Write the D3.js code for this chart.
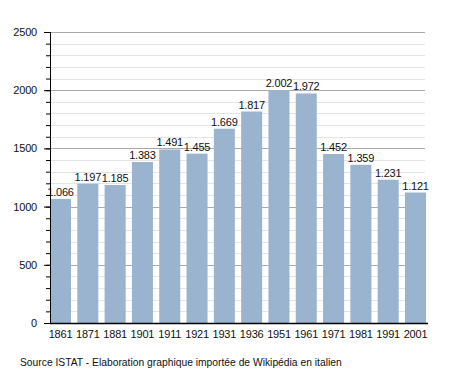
<html>
<head>
<script src="https://d3js.org/d3.v7.min.js"></script>
<style>
body { margin:0; background:#fff; }
text { font-family: "Liberation Sans", Arial, sans-serif; }
</style>
</head>
<body>
<svg width="455" height="373"></svg>
<script>
var years = ["1861","1871","1881","1901","1911","1921","1931","1936","1951","1961","1971","1981","1991","2001"];
var population = [1066,1197,1185,1383,1491,1455,1669,1817,2002,1972,1452,1359,1231,1121];
var majorTicks = [0,500,1000,1500,2000,2500];
var sourceText = "Source ISTAT - Elaboration graphique importée de Wikipédia en italien";

var svg = d3.select("svg");
var plotLeft = 50, plotRight = 426, plotTop = 32, plotBottom = 323;

var x = d3.scaleBand().domain(years).range([plotLeft, plotRight]).paddingInner(0.23).paddingOuter(0);
var y = d3.scaleLinear().domain([0, 2500]).range([plotBottom, plotTop]);

// minor grid
var minor = d3.range(0, 2501, 100);
svg.append("g").selectAll("line").data(minor.filter(function(d){ return d % 500 != 0; }))
  .enter().append("line")
  .attr("x1", plotLeft).attr("x2", 425)
  .attr("y1", function(d){ return Math.round(y(d)) + 0.5; })
  .attr("y2", function(d){ return Math.round(y(d)) + 0.5; })
  .attr("stroke", "#e4e4e4").attr("stroke-width", 1);
// major grid
svg.append("g").selectAll("line").data(majorTicks.slice(1))
  .enter().append("line")
  .attr("x1", plotLeft).attr("x2", 425)
  .attr("y1", function(d){ return Math.round(y(d)) + 0.5; })
  .attr("y2", function(d){ return Math.round(y(d)) + 0.5; })
  .attr("stroke", "#aaaaaa").attr("stroke-width", 1);

// bars
svg.append("g").selectAll("rect").data(population).enter().append("rect")
  .attr("x", function(d,i){ return x(years[i]); })
  .attr("width", x.bandwidth())
  .attr("y", function(d){ return y(d); })
  .attr("height", function(d){ return plotBottom - y(d); })
  .attr("fill", "#9ab3cf");

// value labels
svg.append("g").selectAll("text").data(population).enter().append("text")
  .attr("x", function(d,i){ return x(years[i]) + x.bandwidth()/2; })
  .attr("y", function(d){ return y(d) - 3; })
  .attr("text-anchor", "middle")
  .style("font-size", "11px")
  .style("letter-spacing", "-0.2px")
  .attr("fill", "#111")
  .text(function(d){ return d3.format(",")(d).replace(",", "."); });

// y axis: minor ticks
svg.append("g").attr("transform", "translate(" + plotLeft + ",0)")
  .call(d3.axisLeft(y).tickValues(minor).tickSize(4).tickFormat(""))
  .call(function(g){ g.select(".domain").remove(); });
// y axis: major
var ya = svg.append("g").attr("transform", "translate(" + plotLeft + ",0)")
  .call(d3.axisLeft(y).tickValues(majorTicks).tickSize(6).tickPadding(7).tickFormat(d3.format("d")));
ya.selectAll("text").style("font-size", "11px").attr("fill", "#111")
  .style("letter-spacing", "-0.2px")
  .style("font-family", "'Liberation Sans', Arial, sans-serif");
ya.select(".domain").attr("d", "M0.5," + plotTop + "V" + plotBottom);

// x axis
var xa = svg.append("g").attr("transform", "translate(0," + plotBottom + ")")
  .call(d3.axisBottom(x).tickSize(0).tickPadding(7));
xa.select(".domain").attr("d", "M" + plotLeft + ",0.5H" + 428).attr("stroke-width", 1.5);
xa.selectAll("text").style("font-size", "11px").attr("fill", "#111")
  .style("letter-spacing", "-0.2px")
  .style("font-family", "'Liberation Sans', Arial, sans-serif");

svg.append("text").attr("x", 20).attr("y", 366)
  .style("font-size", "10.3px").attr("fill", "#111")
  .text(sourceText);
</script>
</body>
</html>
